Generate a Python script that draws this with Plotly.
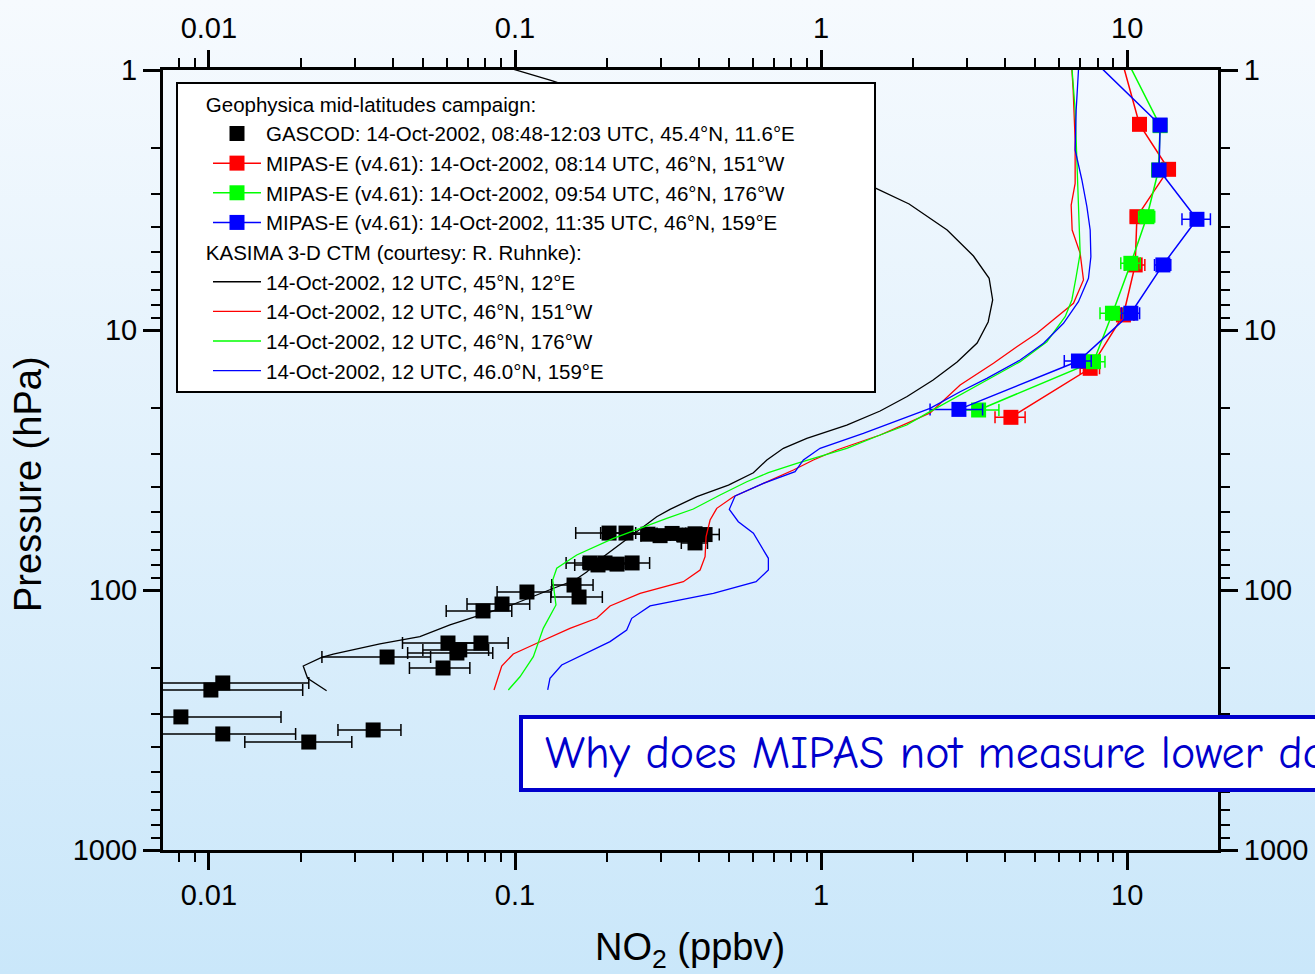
import base64
import math
import plotly.graph_objects as go

# ---------------- data ----------------
# GASCOD measurements
gascod_no2 = [0.2029, 0.2305, 0.2720, 0.2978, 0.3260, 0.3567, 0.3874, 0.4178, 0.3874,
              0.1759, 0.1867, 0.1968, 0.2154, 0.2413, 0.1559, 0.1619, 0.1094, 0.0907,
              0.0786, 0.0604, 0.0774, 0.0646, 0.0660, 0.0582, 0.0382, 0.0111, 0.01015,
              0.0081, 0.0111, 0.0212, 0.0344]
gascod_p = [60.4, 60.4, 61.0, 61.8, 60.6, 61.5, 60.8, 61.2, 65.9,
            78.7, 80.1, 78.7, 79.5, 78.7, 95.7, 106.4, 101.8, 113.2,
            120.4, 159.9, 159.9, 174.7, 170.0, 199.5, 181.0, 227.8, 242.5,
            307.7, 357.8, 384.4, 345.4]
gascod_err = [0.045, 0.04, 0.04, 0.04, 0.035, 0.035, 0.035, 0.047, 0.038,
              0.029, 0.03, 0.03, 0.03, 0.034, 0.024, 0.031, 0.022, 0.021,
              0.019, 0.0175, 0.0176, 0.020, 0.016, 0.013, 0.0148, 0.0101, 0.0101,
              0.0091, 0.0081, 0.0081, 0.008]

# MIPAS-E retrievals
mipas_red_p = [0.75, 1.618, 2.41, 3.666, 5.62, 8.75, 14.04, 21.67]
mipas_red_no2 = [9.16, 10.97, 13.65, 10.76, 10.62, 9.72, 7.57, 4.17]
mipas_red_err = [0, 0.3, 0.4, 0.5, 0.8, 0.8, 0.55, 0.47]

mipas_green_p = [0.75, 1.637, 2.425, 3.666, 5.54, 8.62, 13.24, 20.31]
mipas_green_no2 = [9.15, 12.81, 12.66, 11.60, 10.28, 8.95, 7.76, 3.27]
mipas_green_err = [0, 0.6, 0.6, 0.7, 0.75, 0.8, 0.7, 0.54]

mipas_blue_p = [0.75, 1.628, 2.425, 3.752, 5.62, 8.62, 13.16, 20.2]
mipas_blue_no2 = [6.50, 12.81, 12.71, 16.90, 13.08, 10.28, 6.93, 2.82]
mipas_blue_err = [0, 0.6, 0.5, 1.8, 0.8, 0.7, 0.7, 0.55]

# KASIMA 3-D CTM profiles
kasima_black_no2 = [0.0746, 0.1008, 0.1318, 1.512, 1.939, 2.581, 3.146, 3.540, 3.635, 3.514,
                    3.234, 2.782, 2.323, 1.910, 1.559, 1.213, 0.898, 0.753, 0.665, 0.601,
                    0.498, 0.3925, 0.3209, 0.2904, 0.2627, 0.2317, 0.1944, 0.1715, 0.1571, 0.1331,
                    0.0975, 0.0769, 0.0613, 0.0489, 0.0362, 0.02548, 0.02335, 0.02033, 0.02101, 0.02424]
kasima_black_p = [0.900, 1.000, 1.099, 2.851, 3.277, 4.125, 5.193, 6.327, 7.665, 9.316,
                  11.22, 13.28, 15.57, 18.02, 20.49, 23.20, 26.10, 28.51, 31.62, 35.39,
                  39.47, 43.77, 48.94, 52.25, 57.08, 64.22, 74.45, 85.26, 91.53, 98.68,
                  114.2, 124.8, 136.3, 151.2, 161.3, 176.3, 181.5, 196.0, 218.6, 243.9]

kasima_red_no2 = [6.561, 6.66, 6.76, 6.76, 6.561, 6.61, 7.02, 7.197, 6.676, 5.893,
                  5.07, 4.36, 3.657, 2.846, 2.27, 1.905, 1.559, 1.125, 0.9437, 0.8121,
                  0.6477, 0.5169, 0.4562, 0.4339, 0.4210, 0.4178, 0.4024, 0.3548, 0.2562, 0.2044,
                  0.1849, 0.1512, 0.1178, 0.0987, 0.0905, 0.0854]
kasima_red_p = [0.9, 1.194, 1.858, 2.728, 3.306, 4.125, 5.070, 6.42, 7.892, 8.890,
                10.29, 11.59, 13.43, 16.28, 20.86, 22.85, 25.34, 28.94, 31.62, 34.55,
                38.87, 43.77, 48.52, 53.81, 62.37, 74.45, 83.77, 92.91, 102.97, 115.2,
                128.5, 140.4, 160.3, 176.3, 196.0, 242.4]

kasima_green_no2 = [6.561, 6.61, 6.76, 6.848, 6.93, 7.02, 6.813, 6.595, 6.27, 5.466,
                    4.47, 3.479, 2.846, 2.215, 1.905, 1.559, 1.213, 0.9437, 0.8330, 0.6726,
                    0.5718, 0.4677, 0.3825, 0.3131, 0.2562, 0.2096, 0.1591, 0.1369, 0.1328, 0.1361,
                    0.1237, 0.1192, 0.1148, 0.1038, 0.0951]
kasima_green_p = [0.9, 1.015, 1.425, 2.219, 3.455, 5.070, 6.237, 7.665, 8.890, 11.09,
                  13.24, 15.57, 17.78, 20.92, 23.20, 25.34, 28.51, 31.15, 32.56, 35.39,
                  38.33, 43.12, 48.81, 52.99, 57.90, 63.27, 73.34, 82.51, 91.53, 114.2,
                  140.4, 160.3, 180.5, 215.6, 242.4]

kasima_blue_no2 = [6.967, 6.93, 6.813, 6.76, 7.112, 7.384, 7.57, 7.61, 7.473, 6.93,
                   6.193, 5.33, 4.47, 3.479, 2.846, 2.27, 1.858, 1.374, 0.9924, 0.8754,
                   0.8222, 0.6477, 0.5236, 0.5014, 0.5366, 0.601, 0.6726, 0.6726, 0.6133, 0.4446,
                   0.2762, 0.2406, 0.2317, 0.2044, 0.1421, 0.1301, 0.1279]
kasima_blue_p = [0.9, 1.015, 1.425, 2.031, 2.649, 3.356, 4.125, 5.225, 6.327, 7.784,
                 9.423, 11.25, 13.04, 15.34, 17.28, 20.01, 21.86, 24.96, 28.51, 31.62,
                 35.07, 38.87, 43.50, 48.94, 54.62, 60.52, 75.52, 83.77, 92.91, 102.97,
                 115.2, 128.5, 142.5, 158.0, 194.3, 218.6, 242.4]

x_ticks = [0.01, 0.1, 1, 10]
x_ticktext = ["0.01", "0.1", "1", "10"]
y_ticks = [1, 10, 100, 1000]
y_ticktext = ["1", "10", "100", "1000"]
x_range = [0.00708, 19.8]
y_range = [1, 1000]

# ---------------- style ----------------
FONT = "Liberation Sans, Arial, sans-serif"
RED, GREEN, BLUE = "#FF0000", "#00FF00", "#0000FF"
LEGFONT = 20.5
NB = "\u00a0"

fig = go.Figure()

fig.add_trace(go.Scatter(
    x=gascod_no2, y=gascod_p, mode="markers",
    marker=dict(symbol="square", size=15, color="black"),
    error_x=dict(type="data", array=gascod_err, color="black", thickness=1.5, width=6),
    name="GASCOD: 14-Oct-2002, 08:48-12:03 UTC, 45.4°N, 11.6°E" + NB * 13,
    legendgroup="g1",
    legendgrouptitle=dict(text=NB * 4 + "Geophysica mid-latitudes campaign:",
                          font=dict(size=LEGFONT, family=FONT, color="black")),
))

for xs, ps, es, col, nm in [
    (mipas_red_no2, mipas_red_p, mipas_red_err, RED, "MIPAS-E (v4.61): 14-Oct-2002, 08:14 UTC, 46°N, 151°W"),
    (mipas_green_no2, mipas_green_p, mipas_green_err, GREEN, "MIPAS-E (v4.61): 14-Oct-2002, 09:54 UTC, 46°N, 176°W"),
    (mipas_blue_no2, mipas_blue_p, mipas_blue_err, BLUE, "MIPAS-E (v4.61): 14-Oct-2002, 11:35 UTC, 46°N, 159°E"),
]:
    fig.add_trace(go.Scatter(
        x=xs, y=ps, mode="lines+markers",
        line=dict(color=col, width=1.5),
        marker=dict(symbol="square", size=15, color=col),
        error_x=dict(type="data", array=es, color=col, thickness=1.5, width=6),
        name=nm, legendgroup="g1",
    ))

first = True
for xs, ps, col, nm in [
    (kasima_black_no2, kasima_black_p, "black", "14-Oct-2002, 12 UTC, 45°N, 12°E"),
    (kasima_red_no2, kasima_red_p, RED, "14-Oct-2002, 12 UTC, 46°N, 151°W"),
    (kasima_green_no2, kasima_green_p, GREEN, "14-Oct-2002, 12 UTC, 46°N, 176°W"),
    (kasima_blue_no2, kasima_blue_p, BLUE, "14-Oct-2002, 12 UTC, 46.0°N, 159°E"),
]:
    kw = {}
    if first:
        kw["legendgrouptitle"] = dict(text=NB * 4 + "KASIMA 3-D CTM (courtesy: R. Ruhnke):",
                                      font=dict(size=LEGFONT, family=FONT, color="black"))
        first = False
    fig.add_trace(go.Scatter(
        x=xs, y=ps, mode="lines", line=dict(color=col, width=1.3),
        name=nm, legendgroup="g2", **kw,
    ))

# invisible trace so that the top / right axes render
fig.add_trace(go.Scatter(x=[x_range[0]], y=[y_range[0]], xaxis="x2", yaxis="y2",
                         mode="markers", marker=dict(opacity=0), showlegend=False,
                         hoverinfo="skip"))

minor_x = [m * 10 ** e for e in range(-3, 2) for m in range(2, 10)]
minor_y = [m * 10 ** e for e in range(0, 3) for m in range(2, 10)]

xr = [math.log10(x_range[0]), math.log10(x_range[1])]
yr = [math.log10(y_range[1]), math.log10(y_range[0])]

TICKFONT = dict(size=29, family=FONT, color="black")
common_x = dict(type="log", range=xr, showline=True, linewidth=3, linecolor="black",
                ticks="outside", ticklen=17, tickwidth=2.5, tickcolor="black",
                tickvals=x_ticks, ticktext=x_ticktext, showgrid=False, zeroline=False,
                tickfont=TICKFONT,
                minor=dict(tickvals=minor_x, ticks="outside", ticklen=9, tickwidth=2,
                           tickcolor="black", showgrid=False))
common_y = dict(type="log", range=yr, showline=True, linewidth=3, linecolor="black",
                ticks="outside", ticklen=17, tickwidth=2.5, tickcolor="black",
                tickvals=y_ticks, ticktext=y_ticktext, showgrid=False, zeroline=False,
                tickfont=TICKFONT,
                minor=dict(tickvals=minor_y, ticks="outside", ticklen=9, tickwidth=2,
                           tickcolor="black", showgrid=False))

svg = ('<svg xmlns="http://www.w3.org/2000/svg" width="100" height="100" viewBox="0 0 100 100" '
       'preserveAspectRatio="none"><defs><linearGradient id="g" x1="0" y1="0" x2="0" y2="1">'
       '<stop offset="0" stop-color="#F6FAFE"/><stop offset="1" stop-color="#CAE7FA"/>'
       '</linearGradient></defs><rect width="100" height="100" fill="url(#g)"/></svg>')
svg_uri = "data:image/svg+xml;base64," + base64.b64encode(svg.encode()).decode()

W, H = 1315, 974
L, R, T, B = 163, 97, 70, 124
pw, ph = W - L - R, H - T - B


def px2paper_x(px):
    return (px - L) / pw


def px2paper_y(py):
    return (H - B - py) / ph


fig.update_layout(
    width=W, height=H,
    margin=dict(l=L, r=R, t=T, b=B, autoexpand=False),
    paper_bgcolor="#E2F1FC",
    plot_bgcolor="#C0C0C0",
    font=dict(family=FONT, color="black"),
    xaxis=dict(**common_x, side="bottom"),
    yaxis=dict(**common_y, side="left"),
    xaxis2=dict(**common_x, side="top", overlaying="x", anchor="y"),
    yaxis2=dict(**common_y, side="right", overlaying="y", anchor="x"),
    showlegend=True,
    legend=dict(x=px2paper_x(176), y=px2paper_y(82), xanchor="left", yanchor="top",
                bgcolor="white", bordercolor="black", borderwidth=2,
                font=dict(size=LEGFONT, family=FONT, color="black"),
                traceorder="grouped", tracegroupgap=0, itemwidth=48, indentation=30),
    images=[dict(source=svg_uri, xref="paper", yref="paper",
                 x=px2paper_x(0), y=px2paper_y(0), sizex=W / pw, sizey=H / ph,
                 xanchor="left", yanchor="top", sizing="stretch", layer="below")],
    shapes=[dict(type="rect", xref="paper", yref="paper",
                 x0=px2paper_x(521), x1=px2paper_x(1340),
                 y0=px2paper_y(790), y1=px2paper_y(717),
                 line=dict(color="#0000CC", width=4), fillcolor="white", layer="above")],
    annotations=[
        dict(text="Why does MIPAS not measure lower down?", xref="paper", yref="paper",
             x=px2paper_x(543), y=px2paper_y(753), xanchor="left", yanchor="middle",
             showarrow=False, font=dict(size=46, color="#0000CC",
                                        family="Comic Sans MS, Comic Neue, Lato, sans-serif")),
        dict(text="NO<sub>2</sub> (ppbv)", xref="paper", yref="paper",
             x=px2paper_x(690), y=px2paper_y(950), xanchor="center", yanchor="middle",
             showarrow=False, font=dict(size=38, family=FONT, color="black")),
        dict(text="Pressure (hPa)", xref="paper", yref="paper", textangle=-90,
             x=px2paper_x(28), y=px2paper_y(484), xanchor="center", yanchor="middle",
             showarrow=False, font=dict(size=38, family=FONT, color="black")),
    ],
)

fig.write_html("out.html", config={"displayModeBar": False},
               post_script="document.body.style.margin='0';document.body.style.overflow='hidden';")
